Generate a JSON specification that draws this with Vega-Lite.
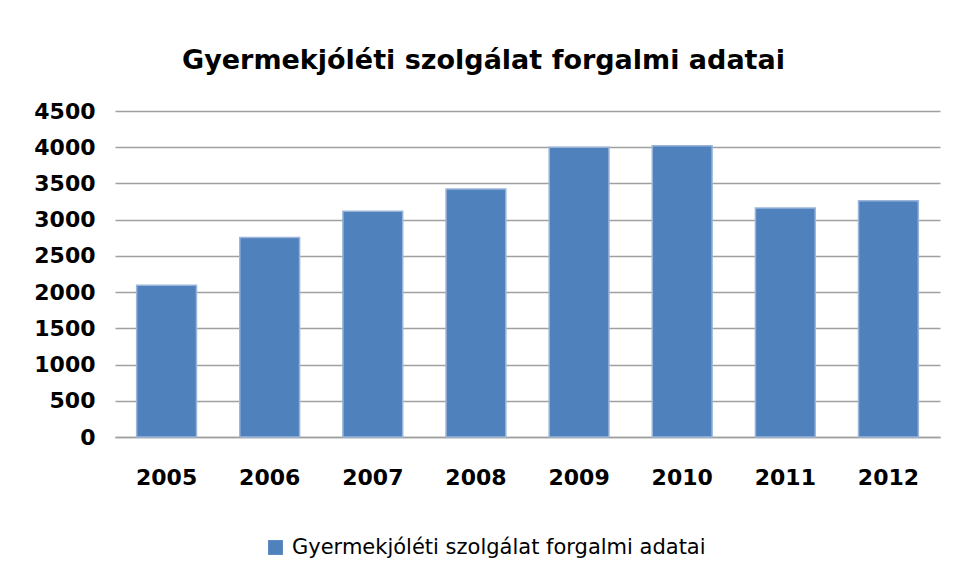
{
  "$schema": "https://vega.github.io/schema/vega-lite/v6.json",
  "autosize": "none",
  "width": 825,
  "height": 326,
  "padding": {"left": 115, "top": 111, "right": 18, "bottom": 142},
  "background": "white",
  "title": {
    "text": "Gyermekjóléti szolgálat forgalmi adatai",
    "font": "DejaVu Sans",
    "fontSize": 27,
    "fontWeight": "bold",
    "color": "#000000",
    "anchor": "middle",
    "dx": -44,
    "offset": 25
  },
  "data": {
    "values": [
      {"ev": "2005", "ertek": 2095, "sorozat": "Gyermekjóléti szolgálat forgalmi adatai"},
      {"ev": "2006", "ertek": 2755, "sorozat": "Gyermekjóléti szolgálat forgalmi adatai"},
      {"ev": "2007", "ertek": 3115, "sorozat": "Gyermekjóléti szolgálat forgalmi adatai"},
      {"ev": "2008", "ertek": 3425, "sorozat": "Gyermekjóléti szolgálat forgalmi adatai"},
      {"ev": "2009", "ertek": 4000, "sorozat": "Gyermekjóléti szolgálat forgalmi adatai"},
      {"ev": "2010", "ertek": 4020, "sorozat": "Gyermekjóléti szolgálat forgalmi adatai"},
      {"ev": "2011", "ertek": 3160, "sorozat": "Gyermekjóléti szolgálat forgalmi adatai"},
      {"ev": "2012", "ertek": 3262, "sorozat": "Gyermekjóléti szolgálat forgalmi adatai"}
    ]
  },
  "mark": {"type": "bar", "stroke": "#9ab5d9", "strokeWidth": 1.5},
  "encoding": {
    "x": {
      "field": "ev",
      "type": "ordinal",
      "scale": {"paddingInner": 0.42, "paddingOuter": 0.21},
      "axis": {
        "title": null,
        "labelAngle": 0,
        "labelFont": "DejaVu Sans",
        "labelFontSize": 22,
        "labelFontWeight": "bold",
        "labelColor": "#000000",
        "labelPadding": 30,
        "ticks": false,
        "domainColor": "#a0a0a0",
        "domainWidth": 1.5
      }
    },
    "y": {
      "field": "ertek",
      "type": "quantitative",
      "scale": {"domain": [0, 4500]},
      "axis": {
        "title": null,
        "values": [0, 500, 1000, 1500, 2000, 2500, 3000, 3500, 4000, 4500],
        "format": "d",
        "labelFont": "DejaVu Sans",
        "labelFontSize": 22,
        "labelFontWeight": "bold",
        "labelColor": "#000000",
        "labelPadding": 20,
        "ticks": false,
        "domain": false,
        "gridColor": "#a0a0a0",
        "gridWidth": 1.5
      }
    },
    "color": {
      "field": "sorozat",
      "type": "nominal",
      "scale": {"range": ["#4f81bd"]},
      "legend": {
        "title": null,
        "orient": "none",
        "legendX": 150,
        "legendY": 426,
        "symbolType": "square",
        "symbolSize": 220,
        "symbolStrokeWidth": 0,
        "labelFont": "DejaVu Sans",
        "labelFontSize": 21,
        "labelColor": "#000000",
        "labelOffset": 6,
        "labelLimit": 600
      }
    }
  },
  "config": {
    "view": {"stroke": null}
  }
}
